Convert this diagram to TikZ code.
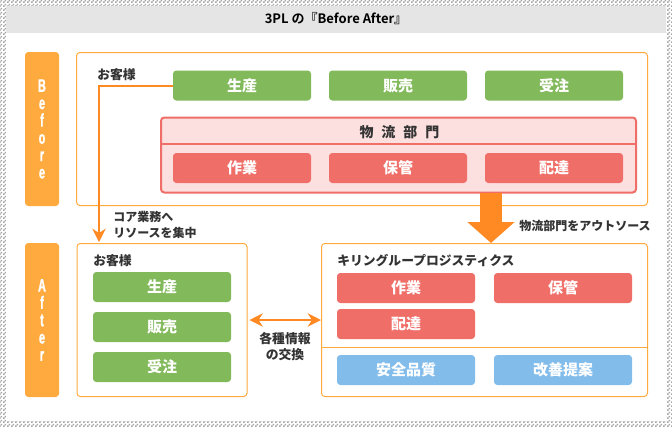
\documentclass[tikz,border=0pt]{standalone}
\usepackage{fontspec}
\usepackage{xcolor}
\usetikzlibrary{arrows.meta,patterns}
\setmainfont{Noto Sans CJK JP}
\newfontfamily\tabfont[UprightFont={* Bold},FakeStretch=0.6,FakeBold=1.2]{Liberation Sans}
\newfontfamily\titlefont[BoldFont={Noto Sans CJK JP Bold}]{Liberation Sans}
\definecolor{tabor}{HTML}{FFAA3F}
\definecolor{arrowor}{HTML}{FF8A24}
\definecolor{leafgreen}{HTML}{82B95B}
\definecolor{coral}{HTML}{EF6E67}
\definecolor{blush}{HTML}{FCE0E0}
\definecolor{sky}{HTML}{82BCEB}
\definecolor{inkgray}{HTML}{333333}
\pgfdeclarepatternformonly{checks}{\pgfqpoint{0pt}{0pt}}{\pgfqpoint{3pt}{3pt}}{\pgfqpoint{3pt}{3pt}}{
  \pgfpathrectangle{\pgfqpoint{0pt}{0pt}}{\pgfqpoint{1.5pt}{1.5pt}}
  \pgfpathrectangle{\pgfqpoint{1.5pt}{1.5pt}}{\pgfqpoint{1.5pt}{1.5pt}}
  \pgfusepath{fill}
}
\tikzset{
  tab/.style={fill=tabor,rounded corners=2.5,minimum width=25.5pt,minimum height=115.5pt,inner sep=0pt,
    text=white,align=center,font=\tabfont\fontsize{13.5}{13}\selectfont},
  frame/.style={draw=tabor,line width=0.75pt,rounded corners=2.5},
  cell/.style={rounded corners=2.5,minimum width=103.5pt,minimum height=22.5pt,inner sep=0pt,text=white,font=\bfseries\fontsize{11.25}{13}\selectfont},
  green/.style={cell,fill=leafgreen},
  red/.style={cell,fill=coral},
  blue/.style={cell,fill=sky},
  caption/.style={text=inkgray,inner sep=0pt,font=\bfseries\fontsize{9}{12}\selectfont},
  bigcaption/.style={caption,font=\bfseries\fontsize{9.6}{12}\selectfont},
  link/.style={draw=arrowor,line width=1.5pt}
}
\begin{document}
\begin{tikzpicture}[x=0.75pt,y=-0.75pt]
\useasboundingbox (0,0) rectangle (672,426);
\fill[pattern=checks,pattern color=black!35] (0,0) rectangle (672,426);
\fill[white] (5.5,5.5) rectangle (666,421);
\fill[black!10] (5.5,5.5) rectangle (666,33);
\node[text=black,font=\titlefont\bfseries\fontsize{9.75}{12}\selectfont] (title) at (336,19) {3PL の『Before After』};
% before
\node[tab] (beforetab) at (42,129) {B\\e\\f\\o\\r\\e};
\draw[frame] (76.5,52.5) rectangle (647.5,205.5);
\node[bigcaption,anchor=west] (custbefore) at (97,75) {お客様};
\node[green] (make) at (242,85.5) {生産};
\node[green] (sell) at (398,85.5) {販売};
\node[green] (order) at (554,85.5) {受注};
\filldraw[draw=coral,fill=blush,line width=1.5pt,rounded corners=2.5] (161,117.5) rectangle (636,192.5);
\draw[draw=coral,line width=1.5pt] (161,144) -- (636,144);
\node[caption,font=\bfseries\fontsize{10.5}{12}\selectfont] (logi) at (399.5,132) {\spaceskip=6pt 物 流 部 門};
\node[red] (work) at (242,168) {作業};
\node[red] (store) at (398,168) {保管};
\node[red] (ship) at (554,168) {配達};
% after
\node[tab] (aftertab) at (42,320) {A\\f\\t\\e\\r};
\node[frame,minimum width=127.5pt,minimum height=114.75pt,inner sep=0pt] (custframe) at (162,320) {};
\node[bigcaption,anchor=west] (custafter) at (93,261) {お客様};
\node[green] (make2) at (162,287) {生産};
\node[green] (sell2) at (162,327) {販売};
\node[green] (order2) at (162,367) {受注};
\node[frame,minimum width=244.5pt,minimum height=114.75pt,inner sep=0pt] (kirin) at (484.5,320) {};
\draw[draw=tabor,line width=0.75pt] (321.5,347.5) -- (647.5,347.5);
\node[bigcaption,anchor=west] (kirinname) at (337,261) {キリングループロジスティクス};
\node[red] (work2) at (406,288) {作業};
\node[red] (store2) at (563,288) {保管};
\node[red] (ship2) at (406,324) {配達};
\node[blue] (safe) at (406,370) {安全品質};
\node[blue] (improve) at (563,370) {改善提案};
% connectors
\coordinate (outfrom) at (491,193);
\coordinate (outto) at (491,243);
\coordinate (corefrom) at (99,85.5);
\coordinate (coreto) at (99,242);
\draw[link,-{Stealth[length=10pt,width=10pt]}] (make.west) -- (corefrom) -- (coreto);
\draw[draw=arrowor,line width=16.5pt,-{Triangle[length=15.75pt,width=34.5pt]}] (outfrom) -- (outto);
\draw[link,{Stealth[length=10pt,width=10pt]}-{Stealth[length=10pt,width=10pt]}] (custframe.east) ++(2,0) -- (kirin.west);
\node[caption,anchor=west,align=left] (coretext) at (113,225) {コア業務へ\\リソースを集中};
\node[caption,anchor=west] (outtext) at (519,226) {物流部門をアウトソース};
\node[bigcaption,align=center] (infotext) at (285,347) {各種情報\\の交換};
\end{tikzpicture}
\end{document}
